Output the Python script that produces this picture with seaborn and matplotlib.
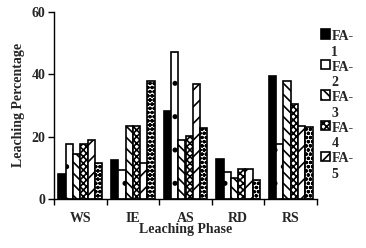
import pandas as pd
import matplotlib.pyplot as plt
import seaborn as sns
from matplotlib.patches import Rectangle
from matplotlib.legend_handler import HandlerPatch

# values
phases = ["WS", "IE", "AS", "RD", "RS"]
series = ["FA-1", "FA-2", "FA-3", "FA-4", "FA-5", "FA-6"]
fa1 = [8.0, 12.4, 28.1, 12.7, 39.3]
fa2 = [17.7, 9.2, 47.0, 8.5, 17.7]
fa3 = [14.3, 23.3, 18.8, 6.6, 37.8]
fa4 = [17.7, 23.3, 20.1, 9.5, 30.3]
fa5 = [18.8, 11.6, 36.7, 9.5, 23.3]
fa6 = [11.4, 37.8, 22.8, 6.0, 23.1]
legend_labels = ["FA-\n1", "FA-\n2", "FA-\n3", "FA-\n4", "FA-\n5"]

rows = []
for name, vals in zip(series, [fa1, fa2, fa3, fa4, fa5, fa6]):
    for p, v in zip(phases, vals):
        rows.append({"Leaching Phase": p, "Leaching Percentage": v, "Series": name})
df = pd.DataFrame(rows)

sns.set_style("ticks")
plt.rcParams['font.family'] = ['Liberation Serif', 'DejaVu Serif']
plt.rcParams['font.weight'] = 'bold'
plt.rcParams['axes.labelweight'] = 'bold'
plt.rcParams['hatch.linewidth'] = 1.2

fs = 10
fig = plt.figure(figsize=(3.66, 2.48), dpi=100)
ax = fig.add_axes([54 / 366, 49 / 248, 263 / 366, 187.3 / 248])

sns.barplot(data=df, x="Leaching Phase", y="Leaching Percentage", hue="Series",
            palette=["white"] * 6, width=0.83, legend=False, ax=ax)

faces = ["black", "white", "white", "white", "white", "white"]
hatches = [None, ".", "\\\\\\", "xxxxx", "//", "oooo"]
for cont, fc, h in zip(ax.containers, faces, hatches):
    for bar in cont.patches:
        bar.set_facecolor(fc)
        bar.set_edgecolor("black")
        bar.set_linewidth(1.2)
        if h:
            bar.set_hatch(h)

ax.set_ylim(0, 60)
ax.set_yticks([0, 20, 40, 60])
ax.set_xlim(-0.5, 4.5)
ax.set_xticks([-0.5, 0.5, 1.5, 2.5, 3.5, 4.5], minor=True)
ax.tick_params(axis="x", which="major", length=0, labelsize=fs, pad=9)
ax.tick_params(axis="x", which="minor", length=4, width=1, color="black", direction="out")
ax.tick_params(axis="y", length=4, width=1, color="black", direction="out", labelsize=fs, pad=2)
for lab in ax.get_xticklabels() + ax.get_yticklabels():
    lab.set_fontweight("bold")
ax.set_xlabel("Leaching Phase", fontsize=fs, labelpad=-1)
ax.set_ylabel("Leaching Percentage", fontsize=fs, labelpad=5)
sns.despine(ax=ax)
for s in ["left", "bottom"]:
    ax.spines[s].set_color("black")
    ax.spines[s].set_linewidth(1)


def first_line_patch(legend, orig_handle, xdescent, ydescent, width, height, fontsize):
    return Rectangle((-xdescent, -ydescent + fontsize * 0.75), width, height)


handles = [c.patches[0] for c in ax.containers[:5]]
leg = ax.legend(handles, legend_labels, loc="upper left",
                bbox_to_anchor=(321 / 366, 1 - 30 / 248), bbox_transform=fig.transFigure,
                frameon=False, borderaxespad=0, borderpad=0,
                handlelength=0.65, handleheight=0.65, handletextpad=0.1, labelspacing=0.15,
                handler_map={Rectangle: HandlerPatch(patch_func=first_line_patch)},
                prop={"weight": "bold", "size": fs})
for t in leg.get_texts():
    t.set_linespacing(1.25)

fig.savefig("out.png", dpi=100)
